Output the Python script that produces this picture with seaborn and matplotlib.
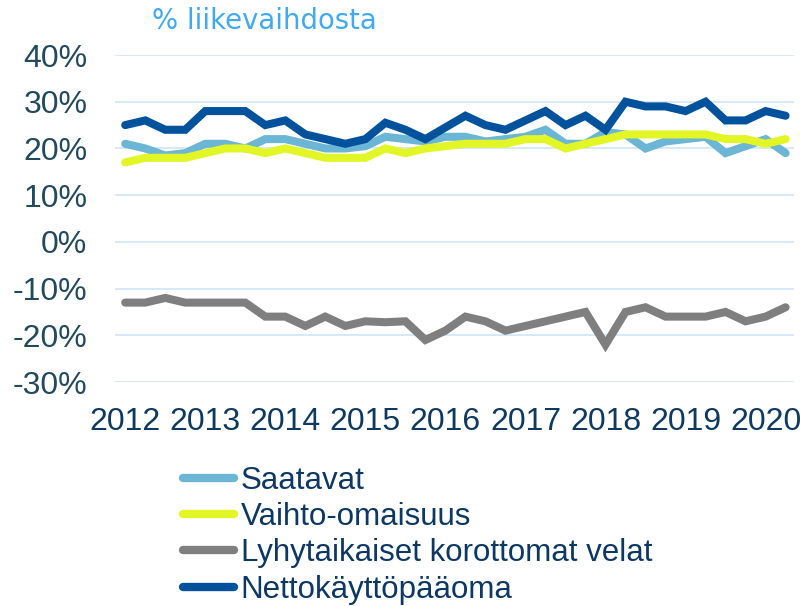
import numpy as np
import pandas as pd
import matplotlib
matplotlib.use("Agg")
import matplotlib.pyplot as plt
import seaborn as sns

# Quarterly observations, 2012 Q1 – 2020 Q2 (% of turnover)
quarters = [f"{y}Q{q}" for y in range(2012, 2021) for q in range(1, 5)][:34]

saatavat = [21, 20, 18.5, 19, 21, 21, 20, 22, 22, 21, 20,
            20, 20.5, 22.5, 22, 21.5, 22.5, 22.5, 21.5, 22, 22.5, 24,
            21, 21, 23.5, 23, 20, 21.5, 22, 22.5, 19, 20.5, 22, 19]
vaihto_omaisuus = [17, 18, 18, 18, 19, 20, 20, 19, 20, 19, 18,
                   18, 18, 20, 19, 20, 20.5, 21, 21, 21, 22, 22,
                   20, 21, 22, 23, 23, 23, 23, 23, 22, 22, 21, 22]
lyhytaikaiset = [-13, -13, -12, -13, -13, -13, -13, -16, -16, -18, -16,
                 -18, -17, -17.2, -17, -21, -19, -16, -17, -19, -18, -17,
                 -16, -15, -22, -15, -14, -16, -16, -16, -15, -17, -16, -14]
nettokayttopaaoma = [25, 26, 24, 24, 28, 28, 28, 25, 26, 23, 22,
                     21, 22, 25.5, 24, 22, 24.5, 27, 25, 24, 26, 28,
                     25, 27, 24, 30, 29, 29, 28, 30, 26, 26, 28, 27]

series_names = ["Saatavat", "Vaihto-omaisuus",
                "Lyhytaikaiset korottomat velat", "Nettokäyttöpääoma"]
series_values = [saatavat, vaihto_omaisuus, lyhytaikaiset, nettokayttopaaoma]
colors = ["#6bb5d5", "#e2f626", "#7f7f7f", "#00529c"]

year_labels = [str(y) for y in range(2012, 2021)]
y_ticks = [-30, -20, -10, 0, 10, 20, 30, 40]

df = pd.concat([
    pd.DataFrame({"idx": np.arange(len(v)), "quarter": quarters[:len(v)],
                  "value": v, "series": name})
    for name, v in zip(series_names, series_values)
], ignore_index=True)

sns.set_theme(style="white")
plt.rcParams["font.family"] = ["Liberation Sans", "DejaVu Sans"]

fig = plt.figure(figsize=(8.0, 6.06), dpi=100)
ax = fig.add_axes([0.144, 0.3696, 0.848, 0.5396])

sns.lineplot(data=df, x="idx", y="value", hue="series",
             hue_order=series_names, palette=colors,
             linewidth=5.8, ax=ax, legend=True,
             solid_capstyle="round", solid_joinstyle="miter")

ax.set_xlim(-0.5, 33.4)
ax.set_ylim(-30, 40)
ax.set_yticks(y_ticks)
ax.set_yticklabels([f"{t}%" for t in y_ticks])
ax.set_xticks(np.arange(0, 33, 4))
ax.set_xticklabels(year_labels)
ax.set_xlabel("")
ax.set_ylabel("")

ax.grid(axis="y", color="#d3e6f7", linewidth=1.3)
ax.grid(axis="x", visible=False)
ax.set_axisbelow(True)
for s in ax.spines.values():
    s.set_visible(False)

ax.tick_params(axis="y", length=0, pad=20, labelsize=23, labelcolor="#234a5c")
ax.tick_params(axis="x", length=0, pad=18, labelsize=23, labelcolor="#0f3a60")

fig.text(0.331, 0.966, "% liikevaihdosta", color="#42a8ef",
         fontsize=19.8, family="DejaVu Sans", ha="center", va="center")

handles, labels = ax.get_legend_handles_labels()
for h in handles:
    h.set_linewidth(6)
    h.set_solid_capstyle("round")
leg = ax.legend(handles, labels, loc="upper left",
                bbox_to_anchor=(0.209, 0.257), bbox_transform=fig.transFigure,
                frameon=False, fontsize=22.5, handlelength=1.65,
                handletextpad=0.2, labelspacing=0.2, borderpad=0)
for t in leg.get_texts():
    t.set_color("#0d3864")

fig.savefig("out.png", dpi=100)
